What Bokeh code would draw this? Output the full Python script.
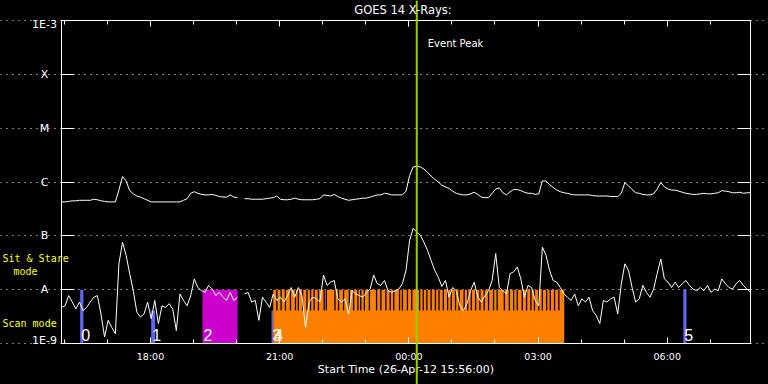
import numpy as np
import pandas as pd
from bokeh.plotting import figure
from bokeh.models import (Range1d, FixedTicker, DatetimeTickFormatter, DatetimeAxis,
                          LogAxis, Label, Span, Grid, ColumnDataSource,
                          GlobalInlineStyleSheet)
from bokeh.embed import file_html
from bokeh.resources import INLINE

# ------------------------------------------------------------------ data
start_time = "2012-04-26 15:56:00"
end_time = "2012-04-27 07:56:00"
cadence = "5min"

# GOES 14 1-8 A channel, log10 of flux (W/m^2), 5-minute samples
goes_long_log10 = [
    -6.37, -6.37, -6.36, -6.35, -6.35, -6.34, -6.34, -6.34, -6.34, -6.32,
    -6.33, -6.35, -6.36, -6.37, -6.37, -6.37, -6.15, -5.90, -5.98, -6.16,
    -6.22, -6.26, -6.28, -6.31, -6.34, -6.37, -6.37, -6.37, -6.37, -6.37,
    -6.37, -6.37, -6.37, -6.37, -6.34, -6.31, -6.21, -6.18, -6.21, -6.23,
    -6.24, -6.24, -6.23, -6.25, -6.27, -6.28, -6.28, -6.24, -6.28, -6.29,
    np.nan, -6.31, -6.31, -6.32, -6.32, -6.32, -6.32, -6.31, -6.30, -6.29,
    -6.26, -6.32, -6.33, -6.33, -6.32, -6.30, -6.32, -6.33, -6.33, -6.33,
    -6.33, -6.32, -6.31, -6.24, -6.25, -6.26, -6.23, -6.27, -6.30, -6.32,
    -6.34, -6.33, -6.32, -6.31, -6.30, -6.30, -6.28, -6.26, -6.24, -6.24,
    -6.21, -6.22, -6.24, -6.24, -6.24, -6.24, -6.17, -5.88, -5.72, -5.71,
    -5.72, -5.76, -5.82, -5.89, -5.95, -6.00, -6.06, -6.09, -6.12, -6.17,
    -6.21, -6.23, -6.24, -6.24, -6.22, -6.19, -6.23, -6.28, -6.29, -6.29,
    -6.21, -6.13, -6.11, -6.20, -6.24, -6.18, -6.14, -6.14, -6.16, -6.19,
    -6.21, -6.21, -6.23, -6.22, -5.98, -5.98, -6.05, -6.10, -6.15, -6.18,
    -6.20, -6.21, -6.23, -6.24, -6.24, -6.24, -6.24, -6.24, -6.25, -6.26,
    -6.26, -6.26, -6.26, -6.27, -6.27, -6.27, -6.21, -6.01, -6.07, -6.14,
    -6.20, -6.21, -6.23, -6.24, -6.24, -6.22, -6.13, -6.01, -6.09, -6.13,
    -6.15, -6.15, -6.17, -6.19, -6.21, -6.22, -6.23, -6.23, -6.22, -6.21,
    -6.22, -6.22, -6.21, -6.20, -6.16, -6.17, -6.18, -6.20, -6.20, -6.19,
    -6.21, -6.20, -6.20,
]

# GOES 14 0.5-4 A channel, log10 of flux (W/m^2), 5-minute samples
goes_short_log10 = [
    -8.33, -8.30, -8.11, -8.23, -8.36, -8.23, -8.39, -8.33, -8.23, -8.14,
    -8.11, -8.45, -8.88, -8.57, -8.70, -8.82, -7.52, -7.12, -7.36, -7.70,
    -8.02, -8.42, -8.51, -8.45, -8.23, -8.54, -8.20, -8.63, -8.30, -8.33,
    -8.26, -8.36, -8.76, -8.08, -8.20, -8.30, -8.11, -7.80, -7.96, -8.02,
    -8.05, -7.92, -7.99, -8.11, -8.05, -8.14, -8.20, -8.05, -8.20, -8.14,
    np.nan, -8.08, -8.05, -8.23, -8.20, -8.57, -8.14, -8.23, -8.33, -8.08,
    -8.20, -8.14, -8.23, -8.11, -7.96, -8.14, -7.96, -8.11, -8.70, -8.23,
    -8.14, -8.17, -8.23, -7.73, -7.92, -7.86, -7.83, -8.17, -8.23, -8.17,
    -8.45, -8.02, -8.08, -8.11, -8.14, -8.05, -7.99, -7.73, -7.89, -7.92,
    -7.83, -8.02, -8.05, -8.02, -7.99, -7.89, -7.64, -7.09, -6.86, -6.93,
    -6.99, -7.12, -7.27, -7.46, -7.64, -7.77, -7.94, -7.83, -8.14, -7.96,
    -8.02, -8.30, -8.39, -8.26, -8.02, -7.86, -8.14, -8.23, -8.11, -8.02,
    -7.83, -7.33, -7.96, -8.02, -8.08, -7.70, -7.67, -7.58, -7.80, -8.14,
    -7.92, -7.96, -8.20, -8.30, -7.21, -7.36, -7.64, -7.83, -7.86, -7.96,
    -8.08, -8.14, -8.20, -8.08, -8.30, -8.17, -8.23, -8.14, -8.39, -8.48,
    -8.63, -8.20, -8.23, -8.17, -8.14, -8.45, -7.89, -7.52, -7.64, -7.96,
    -8.23, -8.17, -7.92, -8.05, -8.14, -7.99, -7.70, -7.43, -7.80, -7.86,
    -7.96, -7.86, -7.96, -7.89, -7.83, -7.92, -7.99, -8.02, -7.96, -8.02,
    -7.92, -8.05, -7.99, -8.02, -7.80, -7.89, -7.96, -7.99, -7.89, -7.83,
    -7.92, -7.99, -8.05,
]

xtick_major = ["2012-04-26 18:00", "2012-04-26 21:00", "2012-04-27 00:00",
               "2012-04-27 03:00", "2012-04-27 06:00"]
xtick_minor_first, xtick_minor_last = "2012-04-26 16:00", "2012-04-27 07:00"

ytick_values = [1e-9, 1e-8, 1e-7, 1e-6, 1e-5, 1e-4, 1e-3]
ytick_labels = ["1E-9", "A", "B", "C", "M", "X", "1E-3"]

# observation markers (numbered intervals)
marker_labels = ["0", "1", "2", "3", "4", "5"]
marker_start = ["2012-04-26 16:22:00", "2012-04-26 18:01:00", "2012-04-26 19:12:30",
                "2012-04-26 20:48:40", "2012-04-26 20:51:00", "2012-04-27 06:22:20"]
marker_end = ["2012-04-26 16:26:30", "2012-04-26 18:06:30", "2012-04-26 20:01:20",
              "2012-04-26 20:51:00", "2012-04-27 03:36:30", "2012-04-27 06:26:50"]
marker_top = [1e-8, 4.1e-9, 1e-8, 4.1e-9, 1e-8, 1e-8]
marker_bottom = 1e-9

# gaps inside the sit & stare block (minutes after start)
comb_gap_minutes = [300, 306, 312, 319, 326, 330, 336, 342, 347, 352, 358, 366, 369,
                    381, 386, 393, 401, 407, 413, 417, 422, 429, 439, 445, 452, 458,
                    463, 471, 475, 482, 488, 499, 504, 509, 515, 521, 526, 532, 538,
                    543, 549, 554, 561, 566, 571, 577, 583, 589, 595, 602, 607, 617,
                    624, 630, 635, 642, 648, 654, 659, 665, 670, 676, 681, 687, 693]
comb_low, comb_high = 4.1e-9, 1e-8

event_peak_time = "2012-04-27 00:11:00"

# ------------------------------------------------------------------ layout / styles
W, H = 768, 384
PL, PR, PT, PB = 61, 750, 20, 343          # plot box in canvas pixels
marker_color = {"0": "#6464f0", "1": "#6464f0", "2": "#cc00cc",
                "3": "#6464f0", "4": "#ff8000", "5": "#6464f0"}
FONT = "DejaVu Sans"
MONO = "DejaVu Sans Mono"


def ms(ts):
    return pd.Timestamp(ts).timestamp() * 1000.0


t0, t1 = ms(start_time), ms(end_time)
px_ms = (t1 - t0) / (PR - PL)
dec_px = (np.log10(ytick_values[-1]) - np.log10(ytick_values[0])) / (PB - PT)
x_range = Range1d(t0 - PL * px_ms, t1 + (W - PR) * px_ms)
y_range = Range1d(10 ** (np.log10(ytick_values[0]) - (H - PB) * dec_px),
                  10 ** (np.log10(ytick_values[-1]) + PT * dec_px))

t = pd.date_range(start_time, end_time, freq=cadence)
assert len(t) == len(goes_long_log10) == len(goes_short_log10)
long_flux = 10 ** np.array(goes_long_log10, dtype=float)
short_flux = 10 ** np.array(goes_short_log10, dtype=float)

p = figure(width=W, height=H, x_axis_type="datetime", y_axis_type="log",
           x_axis_location=None, y_axis_location=None,
           x_range=x_range, y_range=y_range,
           output_backend="svg", toolbar_location=None,
           min_border_left=0, min_border_right=0, min_border_top=0,
           min_border_bottom=0,
           background_fill_color="black", border_fill_color="black")
p.outline_line_color = None
p.stylesheets = [GlobalInlineStyleSheet(css="html, body { background: black; }")]
# drop the default full-canvas grids
p.center = [r for r in p.center if not isinstance(r, Grid)]

# ---- axes (fixed to the plot box edges)
xt = FixedTicker(ticks=[ms(v) for v in xtick_major],
                 minor_ticks=[ms(v) for v in pd.date_range(xtick_minor_first,
                                                           xtick_minor_last, freq="1h")])
fmt = DatetimeTickFormatter(hours="%H:%M", hourmin="%H:%M", minutes="%H:%M",
                            days="%H:%M")
yt = FixedTicker(ticks=ytick_values, minor_ticks=[])


def xaxis(loc, labels):
    ax = DatetimeAxis(fixed_location=loc, bounds=(t0, t1), ticker=xt, formatter=fmt)
    ax.axis_line_color = "white"
    ax.major_tick_line_color = "white"
    ax.minor_tick_line_color = "white"
    ax.major_tick_in, ax.major_tick_out = 6, 0
    ax.minor_tick_in, ax.minor_tick_out = 4, 0
    if labels:
        ax.major_label_text_color = "white"
        ax.major_label_text_font = FONT
        ax.major_label_text_font_size = "9.5px"
        ax.major_label_standoff = 7
    else:
        ax.major_label_text_font_size = "1px"
        ax.major_label_text_alpha = 0
        ax.major_label_standoff = 0
    return ax


def yaxis(loc):
    ax = LogAxis(fixed_location=loc, bounds=(ytick_values[0], ytick_values[-1]),
                 ticker=yt)
    ax.axis_line_color = "white"
    ax.major_tick_line_color = "white"
    ax.minor_tick_line_color = None
    ax.major_tick_in, ax.major_tick_out = 13, 0
    ax.major_label_text_font_size = "1px"
    ax.major_label_text_alpha = 0
    ax.major_label_standoff = 0
    return ax


bottom = xaxis(ytick_values[0], True)
bottom.axis_label = "Start Time (26-Apr-12 15:56:00)"
bottom.axis_label_text_color = "white"
bottom.axis_label_text_font = FONT
bottom.axis_label_text_font_size = "11px"
bottom.axis_label_text_font_style = "normal"
bottom.axis_label_standoff = -2
p.add_layout(bottom, "below")
p.add_layout(xaxis(ytick_values[-1], False), "above")
p.add_layout(yaxis(t0), "left")
p.add_layout(yaxis(t1), "right")

p.add_layout(Grid(dimension=1, ticker=yt, bounds=(t0, t1), grid_line_color="white",
                  grid_line_dash="1 5", grid_line_width=1))

# ---- marker intervals
msrc = ColumnDataSource(dict(
    left=pd.to_datetime(marker_start), right=pd.to_datetime(marker_end),
    bottom=[marker_bottom] * len(marker_labels), top=marker_top,
    color=[marker_color[k] for k in marker_labels]))
p.quad(left="left", right="right", bottom="bottom", top="top", source=msrc,
       fill_color="color", line_color=None)

gap_t = pd.Timestamp(start_time) + pd.to_timedelta(comb_gap_minutes, unit="min")
p.segment(x0=gap_t, y0=comb_low, x1=gap_t, y1=comb_high,
          line_color="black", line_width=1.3)

# ---- light curves
p.line(t, long_flux, line_color="white", line_width=1)
p.line(t, short_flux, line_color="white", line_width=1)

# ---- event peak
p.add_layout(Span(location=ms(event_peak_time), dimension="height",
                  line_color="#9acd00", line_width=2))
p.add_layout(Label(x=ms(event_peak_time), x_offset=11, y=H - 37, y_units="screen",
                   text="Event Peak", text_color="white", text_font=FONT,
                   text_font_size="10px", text_baseline="top"))

# ---- marker numbers
for lab, st in zip(marker_labels, marker_start):
    p.add_layout(Label(x=ms(st), x_offset=1, y=H - 334, y_units="screen", text=lab,
                       text_color="white", text_font="Liberation Sans",
                       text_font_size="16px", text_baseline="middle"))

# ---- y tick labels (GOES classes)
n_y = len(ytick_values)
for i, (v, lab) in enumerate(zip(ytick_values, ytick_labels)):
    off = 3 if i == 0 else (-3.5 if i == n_y - 1 else 0)
    p.add_layout(Label(x=44, x_units="screen", y=v, y_units="data", y_offset=off,
                       text=lab, text_align="center", text_baseline="middle",
                       text_color="white", text_font=FONT, text_font_size="11px"))

# ---- mode labels
for txt, xx, yy in [("Sit & Stare", 2, 258), ("mode", 13, 271), ("Scan mode", 2, 323)]:
    p.add_layout(Label(x=xx, x_units="screen", y=H - yy, y_units="screen", text=txt,
                       text_color="yellow", text_font=MONO,
                       text_font_size="10px", text_baseline="middle"))

# ---- title
p.add_layout(Label(x=(PL + PR) / 2 - 3, x_units="screen", y=H - 9, y_units="screen",
                   text="GOES 14 X-Rays:", text_align="center", text_baseline="middle",
                   text_color="white", text_font=FONT, text_font_size="11.5px"))

open("out.html", "w").write(file_html(p, INLINE))
